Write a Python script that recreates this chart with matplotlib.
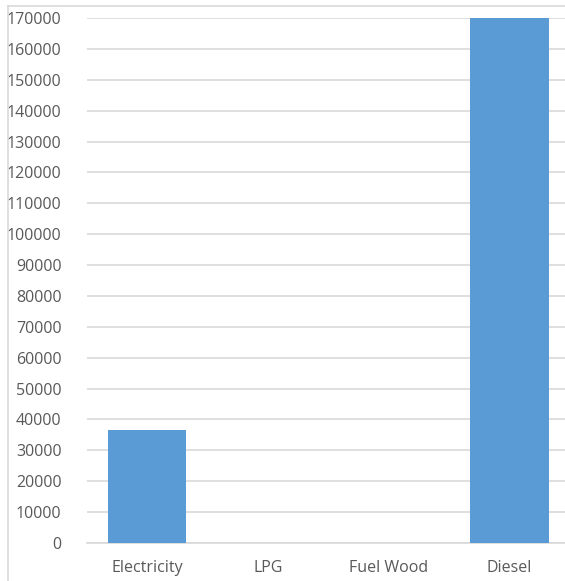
import matplotlib.pyplot as plt
from matplotlib.lines import Line2D

categories = ['Electricity', 'LPG', 'Fuel Wood', 'Diesel']
values = [36600, 0, 0, 170000]
y_ticks = list(range(0, 170001, 10000))

plt.rcParams['font.family'] = ['Open Sans', 'DejaVu Sans']

fig = plt.figure(figsize=(5.65, 5.81), dpi=100)
ax = fig.add_axes([86.6 / 565, 38 / 581, 483.3 / 565, 525 / 581])

ax.bar(range(len(categories)), values, width=0.65, color='#5B9BD5', zorder=3)

ax.set_xlim(-0.5, len(categories) - 0.5)
ax.set_ylim(0, 170000)
ax.set_yticks(y_ticks)
ax.set_yticklabels([str(t) for t in y_ticks])
ax.set_xticks(range(len(categories)))
ax.set_xticklabels(categories)

ax.grid(axis='y', color='#D9D9D9', linewidth=1.2, zorder=0)
ax.tick_params(axis='y', length=0, pad=18, labelsize=11.5, labelcolor='#595959')
ax.tick_params(axis='x', length=0, pad=12, labelsize=11.5, labelcolor='#595959')
for side in ['top', 'right', 'left']:
    ax.spines[side].set_visible(False)
ax.spines['bottom'].set_color('#D9D9D9')
ax.spines['bottom'].set_linewidth(1.2)

# light frame around the chart
fig.add_artist(Line2D([8 / 565, 8 / 565], [0, 1 - 6 / 581], transform=fig.transFigure,
                      color='#D9D9D9', linewidth=1.2))
fig.add_artist(Line2D([8 / 565, 1], [1 - 6 / 581, 1 - 6 / 581], transform=fig.transFigure,
                      color='#D9D9D9', linewidth=1.2))

fig.savefig('out.png', dpi=100)
